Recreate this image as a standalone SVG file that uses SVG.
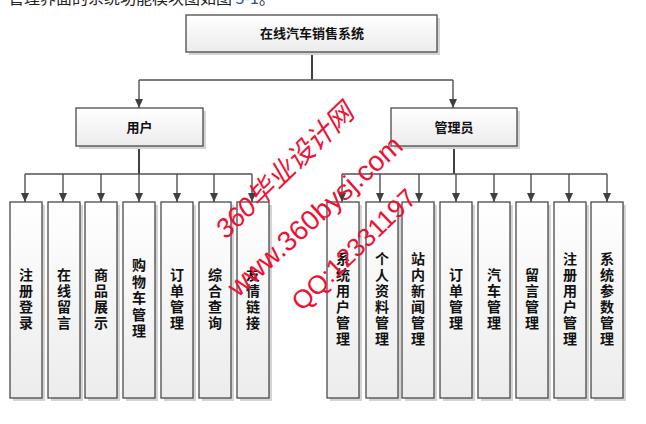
<svg xmlns="http://www.w3.org/2000/svg" width="646" height="424" viewBox="0 0 646 424">
<defs>
<linearGradient id="g" x1="0" y1="0" x2="0" y2="1">
<stop offset="0" stop-color="#ffffff"/>
<stop offset="1" stop-color="#ececec"/>
</linearGradient>
<marker id="ah" markerUnits="userSpaceOnUse" markerWidth="10" markerHeight="10" viewBox="0 0 10 10" refX="10" refY="5" orient="auto">
<path d="M1,1 L10,5 L1,9 Z" fill="#404040"/>
</marker>
<style>
.box{fill:url(#g);stroke:#4a4a4a;stroke-width:1.3}
.sh{fill:#d4d4d4}
.t{font-family:"Noto Sans CJK SC","Noto Sans",sans-serif;font-weight:700;font-size:13px;fill:#111;text-anchor:middle}
.lf{font-family:"Noto Sans CJK SC","Noto Sans",sans-serif;font-weight:700;font-size:14px;fill:#111;text-anchor:middle;writing-mode:vertical-rl;letter-spacing:2px}
.ln{stroke:#505050;stroke-width:1.4;fill:none}
.tr{stroke:#404040;stroke-width:2;fill:none}
.wm{font-family:"Liberation Sans","Noto Sans CJK SC",sans-serif;fill:#ee1133}
</style>
</defs>
<rect width="646" height="424" fill="#ffffff"/>
<text x="8" y="4" font-family="Noto Sans CJK SC,sans-serif" font-size="16" fill="#222">管理界面的系统功能模块图如图 <tspan fill="#2a4fa0">5-1</tspan>。</text>

<g id="connectors">
<path class="tr" d="M312,52 V80"/>
<path class="ln" d="M139,80 H453"/>
<path class="ln" d="M139,80 V108" marker-end="url(#ah)"/>
<path class="ln" d="M453,80 V108" marker-end="url(#ah)"/>
<path class="tr" d="M139,146 V174"/>
<path class="ln" d="M25,174 H252"/>
<path class="ln" d="M25,174 V202" marker-end="url(#ah)"/>
<path class="ln" d="M63,174 V202" marker-end="url(#ah)"/>
<path class="ln" d="M101,174 V202" marker-end="url(#ah)"/>
<path class="ln" d="M139,174 V202" marker-end="url(#ah)"/>
<path class="ln" d="M177,174 V202" marker-end="url(#ah)"/>
<path class="ln" d="M214,174 V202" marker-end="url(#ah)"/>
<path class="ln" d="M252,174 V202" marker-end="url(#ah)"/>
<path class="tr" d="M454,146 V174"/>
<path class="ln" d="M342,174 H607"/>
<path class="ln" d="M342,174 V202" marker-end="url(#ah)"/>
<path class="ln" d="M380,174 V202" marker-end="url(#ah)"/>
<path class="ln" d="M419,174 V202" marker-end="url(#ah)"/>
<path class="ln" d="M456,174 V202" marker-end="url(#ah)"/>
<path class="ln" d="M494,174 V202" marker-end="url(#ah)"/>
<path class="ln" d="M531,174 V202" marker-end="url(#ah)"/>
<path class="ln" d="M569,174 V202" marker-end="url(#ah)"/>
<path class="ln" d="M607,174 V202" marker-end="url(#ah)"/>
</g>

<g id="root">
<rect class="sh" x="189" y="18" width="251" height="37"/>
<rect class="box" x="186" y="15" width="251" height="37"/>
<text class="t" x="312" y="38">在线汽车销售系统</text>
</g>
<g id="user">
<rect class="sh" x="79" y="111" width="127" height="38"/>
<rect class="box" x="76" y="108" width="127" height="38"/>
<text class="t" x="139.5" y="132">用户</text>
</g>
<g id="admin">
<rect class="sh" x="394" y="111" width="126" height="38"/>
<rect class="box" x="391" y="108" width="126" height="38"/>
<text class="t" x="454" y="132">管理员</text>
</g>

<g id="u1"><rect class="sh" x="13" y="205" width="32" height="196"/><rect class="box" x="10" y="202" width="32" height="196"/><text class="lf" x="26" y="300">注册登录</text></g>
<g id="u2"><rect class="sh" x="51" y="205" width="32" height="196"/><rect class="box" x="48" y="202" width="32" height="196"/><text class="lf" x="64" y="300">在线留言</text></g>
<g id="u3"><rect class="sh" x="88" y="205" width="32" height="196"/><rect class="box" x="85" y="202" width="32" height="196"/><text class="lf" x="101" y="300">商品展示</text></g>
<g id="u4"><rect class="sh" x="126" y="205" width="32" height="196"/><rect class="box" x="123" y="202" width="32" height="196"/><text class="lf" x="139" y="299" style="letter-spacing:2.5px">购物车管理</text></g>
<g id="u5"><rect class="sh" x="164" y="205" width="32" height="196"/><rect class="box" x="161" y="202" width="32" height="196"/><text class="lf" x="177" y="300">订单管理</text></g>
<g id="u6"><rect class="sh" x="202" y="205" width="32" height="196"/><rect class="box" x="199" y="202" width="32" height="196"/><text class="lf" x="215" y="300">综合查询</text></g>
<g id="u7"><rect class="sh" x="240" y="205" width="32" height="196"/><rect class="box" x="237" y="202" width="32" height="196"/><text class="lf" x="253" y="300">友情链接</text></g>

<g id="a1"><rect class="sh" x="330" y="205" width="32" height="196"/><rect class="box" x="327" y="202" width="32" height="196"/><text class="lf" x="343" y="300">系统用户管理</text></g>
<g id="a2"><rect class="sh" x="369" y="205" width="32" height="196"/><rect class="box" x="366" y="202" width="32" height="196"/><text class="lf" x="382" y="300">个人资料管理</text></g>
<g id="a3"><rect class="sh" x="405" y="205" width="32" height="196"/><rect class="box" x="402" y="202" width="32" height="196"/><text class="lf" x="418" y="300">站内新闻管理</text></g>
<g id="a4"><rect class="sh" x="443" y="205" width="32" height="196"/><rect class="box" x="440" y="202" width="32" height="196"/><text class="lf" x="456" y="300">订单管理</text></g>
<g id="a5"><rect class="sh" x="481" y="205" width="32" height="196"/><rect class="box" x="478" y="202" width="32" height="196"/><text class="lf" x="494" y="300">汽车管理</text></g>
<g id="a6"><rect class="sh" x="519" y="205" width="32" height="196"/><rect class="box" x="516" y="202" width="32" height="196"/><text class="lf" x="532" y="300">留言管理</text></g>
<g id="a7"><rect class="sh" x="557" y="205" width="32" height="196"/><rect class="box" x="554" y="202" width="32" height="196"/><text class="lf" x="570" y="300">注册用户管理</text></g>
<g id="a8"><rect class="sh" x="594" y="205" width="32" height="196"/><rect class="box" x="591" y="202" width="32" height="196"/><text class="lf" x="607" y="300">系统参数管理</text></g>

<g id="watermark">
<text class="wm" font-size="27" font-style="italic" transform="translate(226,240) rotate(-44)">360毕业设计网</text>
<text class="wm" font-size="28" transform="translate(238,298) rotate(-42)">www.360bysj.com</text>
<text class="wm" font-size="26" transform="translate(302,312) rotate(-44)">QQ:12331197</text>
</g>
</svg>
